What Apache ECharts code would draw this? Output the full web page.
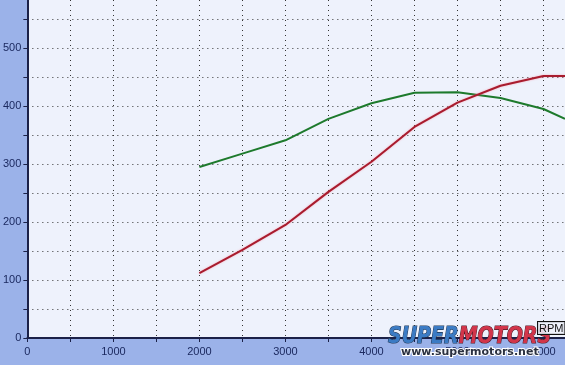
<!DOCTYPE html>
<html>
<head>
<meta charset="utf-8">
<script src="https://cdn.jsdelivr.net/npm/echarts@6/dist/echarts.min.js"></script>
<style>
html,body{margin:0;padding:0;background:#9bb2e9;}
#chart{width:565px;height:365px;}
</style>
</head>
<body>
<div id="chart"></div>
<script>
// RPM sample points
var rpm = [2000, 2500, 3000, 3500, 4000, 4500, 5000, 5500, 6000, 6250];
// green curve (torque)
var torque = [295, 318, 341, 378, 405, 423, 424, 414, 395, 378];
// red curve (horsepower)
var power = [112, 152, 195, 252, 304, 364, 406, 435, 452, 452];
// tick labels
var xTickLabels = ['0', '1000', '2000', '3000', '4000', '5000', '6000'];
var yTickLabels = ['0', '100', '200', '300', '400', '500'];

function pairs(xs, ys) { return xs.map(function (x, i) { return [x, ys[i]]; }); }

var axisColor = '#1b2148';
var labelColor = '#1c2a60';
var chart = echarts.init(document.getElementById('chart'));
chart.setOption({
  animation: false,
  backgroundColor: '#9bb2e9',
  grid: {
    left: 26, right: 0, top: 0, bottom: 27,
    show: true, backgroundColor: '#eef2fc', borderWidth: 0
  },
  xAxis: {
    type: 'value', min: 0, max: 6250, interval: 500,
    axisLine: { show: true, lineStyle: { color: axisColor, width: 2 } },
    axisTick: { show: true, length: 4, lineStyle: { color: axisColor, width: 1 } },
    axisLabel: {
      color: labelColor, fontFamily: 'Liberation Sans', fontSize: 11, margin: 8,
      showMaxLabel: false,
      formatter: function (v) { var s = String(v); return xTickLabels.indexOf(s) >= 0 ? s : ''; }
    },
    splitLine: { show: true, showMaxLine: false, showMinLine: false, lineStyle: { color: '#333', type: [1, 4], width: 1 } }
  },
  yAxis: {
    type: 'value', min: 0, max: 583, interval: 50,
    axisLine: { show: true, lineStyle: { color: axisColor, width: 2 } },
    axisTick: { show: true, length: 4, lineStyle: { color: axisColor, width: 1 } },
    axisLabel: {
      color: labelColor, fontFamily: 'Liberation Sans', fontSize: 11, margin: 6,
      showMaxLabel: false,
      formatter: function (v) { var s = String(v); return yTickLabels.indexOf(s) >= 0 ? s : ''; }
    },
    splitLine: { show: true, showMaxLine: false, showMinLine: false, lineStyle: { color: '#333', type: [1, 4], width: 1 } }
  },
  series: [
    {
      type: 'line', data: pairs(rpm, torque), symbol: 'none',
      lineStyle: { color: '#1d7a2c', width: 2 }
    },
    {
      type: 'line', data: pairs(rpm, power), symbol: 'none',
      lineStyle: { color: '#a81c2e', width: 2, shadowColor: 'rgba(255,120,140,0.6)', shadowBlur: 2 }
    }
  ],
  graphic: [
    {
      type: 'text', x: 388, y: 326, scaleY: 1.2, z: 101,
      style: {
        text: '{a|SUPER}{b|MOTORS}',
        rich: {
          a: { fill: '#3b7bc4', font: 'italic 900 19px "DejaVu Sans"', stroke: '#1d3350', lineWidth: 1 },
          b: { fill: '#d2354a', font: 'italic 900 19px "DejaVu Sans"', stroke: '#4a1a26', lineWidth: 1 }
        }
      }
    },
    {
      type: 'text', left: 537, top: 321, z: 103,
      style: {
        text: 'RPM', fill: '#111', font: '11px "Liberation Sans"',
        backgroundColor: 'rgba(238,242,252,0.85)', borderColor: '#111', borderWidth: 1,
        padding: [1, 1, 0, 1]
      }
    },
    {
      type: 'text', left: 400, top: 346, z: 102,
      style: {
        text: 'www.supermotors.net', fill: '#2a3040',
        font: 'bold 11px "DejaVu Sans"', stroke: '#ffffff', lineWidth: 2
      }
    }
  ]
});
</script>
</body>
</html>
